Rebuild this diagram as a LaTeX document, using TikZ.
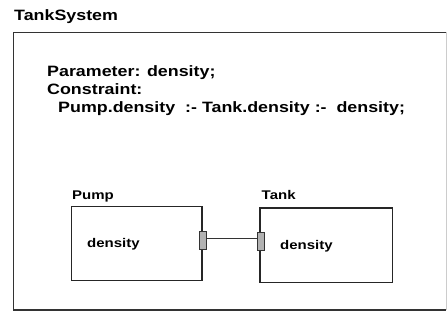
\documentclass[tikz,border=0pt]{standalone}
\usepackage{fontspec}
\setmainfont{Liberation Sans}
\newfontfamily\bigwide[FakeStretch=1.19]{Liberation Sans}
\begin{document}
\begin{tikzpicture}[x=1pt,y=-1pt,
  bigtxt/.style={inner sep=0pt,anchor=base west,font=\bigwide\fontsize{15}{18}\bfseries\selectfont},
  smalltxt/.style={inner sep=0pt,anchor=base west,font=\bigwide\fontsize{12.6}{15}\bfseries\selectfont},
  blockbox/.style={draw=black!85,line width=1.2pt,fill=white},
  portbox/.style={draw=black!80,line width=0.9pt,fill=black!30,minimum width=7pt,minimum height=18pt,inner sep=0pt},
  frameline/.style={draw=black!80,line width=1.6pt}]
\useasboundingbox (0,0) rectangle (447,320);
% outer frame
\draw[frameline] (446,32.5) -- (13.5,32.5) -- (13.5,310) -- (446,310);
\draw[draw=black!20,line width=1pt] (446,32.5) -- (446,310);
\node[bigtxt] (title) at (14,21) {TankSystem};
% constraint text
\node[bigtxt] (l1) at (47,77) {Parameter: density;};
\node[bigtxt] (l2) at (47,95) {Constraint:};
\node[bigtxt] (l3) at (58,113) {Pump.density\ \ :- Tank.density :-\ \ density;};
% blocks
\draw[blockbox] (71.7,206.7) rectangle (202,280.7);
\node[smalltxt] (pumplbl) at (72,199.5) {Pump};
\node[smalltxt] (pumpd) at (87,248) {density};
\draw[blockbox] (260,208) rectangle (392.7,282.7);
\node[smalltxt] (tanklbl) at (261.5,200) {Tank};
\node[smalltxt] (tankd) at (280,250) {density};
% ports
\node[portbox] (pp) at (202.8,240) {};
\node[portbox] (tp) at (261,241.7) {};
\draw[black!80,line width=1pt] (pp.east |- 0,238.5) -- (tp.west |- 0,238.5);
\end{tikzpicture}
\end{document}
